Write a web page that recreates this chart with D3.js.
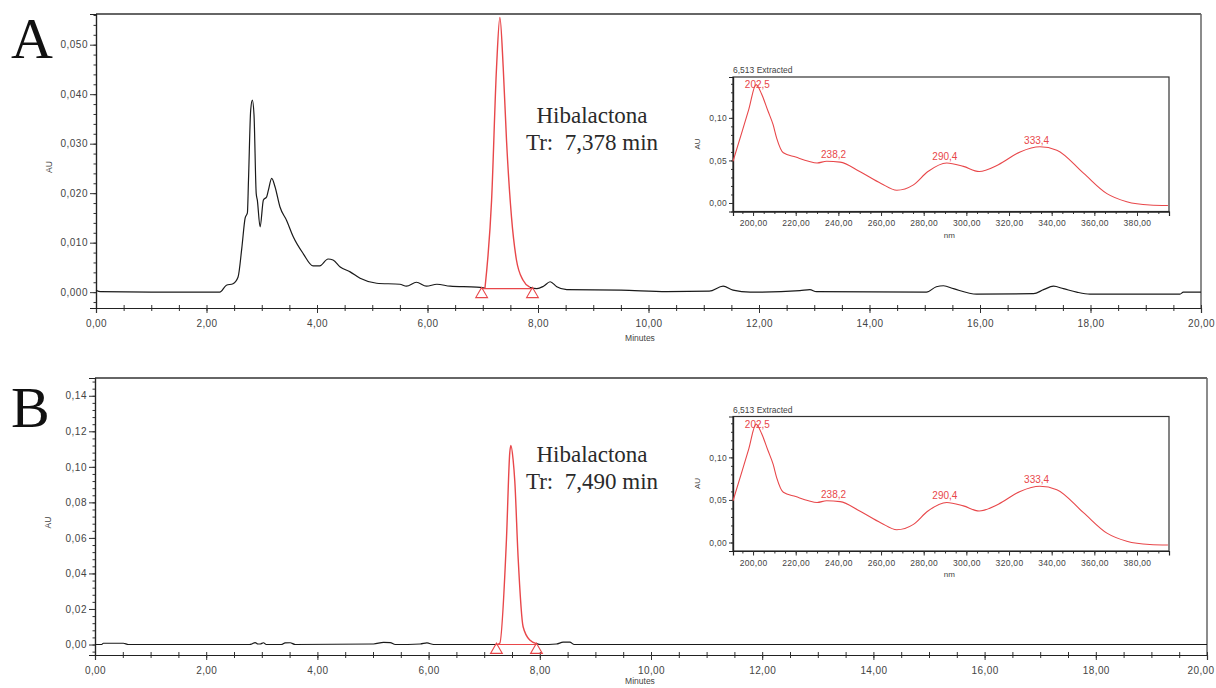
<!DOCTYPE html>
<html>
<head>
<meta charset="utf-8">
<script src="https://cdn.jsdelivr.net/npm/d3@7"></script>
<style>
  body { margin: 0; background: #fff; }
  svg { display: block; font-family: Arial, "Liberation Sans", sans-serif; }
  .serif { font-family: "Liberation Serif", "Times New Roman", serif; }
  .tick text { fill: #444; }
</style>
</head>
<body>
<div id="container"></div>
<script>
// chromatogram A: [minutes, AU]
const traceA = [
  [0.00, 0.0004], [0.08, 0.0001], [1.00, 0.0], [2.24, 0.0], [2.36, 0.0014], [2.48, 0.0017],
  [2.57, 0.003], [2.64, 0.009], [2.70, 0.015], [2.74, 0.016], [2.76, 0.0226], [2.80, 0.0368],
  [2.83, 0.0388], [2.86, 0.0358], [2.90, 0.0199], [2.92, 0.0186], [2.97, 0.0132], [3.03, 0.0186],
  [3.09, 0.0193], [3.12, 0.0206], [3.18, 0.0230], [3.24, 0.0213], [3.33, 0.0172], [3.45, 0.0145],
  [3.57, 0.0112], [3.75, 0.0078], [3.93, 0.0053], [4.05, 0.0053], [4.20, 0.0067], [4.29, 0.0065],
  [4.42, 0.0051], [4.60, 0.0041], [4.78, 0.0028], [5.08, 0.0018], [5.50, 0.0016], [5.62, 0.0012],
  [5.80, 0.0020], [5.98, 0.0012], [6.17, 0.0016], [6.41, 0.0012], [6.89, 0.0010], [7.04, 0.0008],
  [7.16, 0.0186], [7.25, 0.0455], [7.31, 0.0555], [7.37, 0.0455], [7.43, 0.0307], [7.52, 0.0152],
  [7.61, 0.0065], [7.73, 0.0024], [7.85, 0.0010], [7.98, 0.0007], [8.10, 0.0012], [8.22, 0.0021],
  [8.34, 0.0011], [8.52, 0.0005], [9.50, 0.0004], [10.33, 0.0001], [11.10, 0.0002], [11.35, 0.0012],
  [11.53, 0.0004], [11.84, 0.0], [12.74, 0.0003], [12.92, 0.0005], [13.04, 0.0001], [15.03, 0.0],
  [15.21, 0.0011], [15.34, 0.0013], [15.52, 0.0007], [15.94, -0.0004], [16.97, -0.0003],
  [17.15, 0.0005], [17.33, 0.0012], [17.51, 0.0007], [17.75, 0.0], [17.99, -0.0004],
  [19.62, -0.0004], [19.68, 0.0], [20.0, 0.0]
];
// chromatogram B: [minutes, AU]
const traceB = [
  [0.00, 0.0], [0.12, 0.0], [0.15, 0.0007], [0.51, 0.0007], [0.60, 0.0], [2.78, 0.0],
  [2.82, 0.0003], [2.88, 0.0011], [2.93, 0.0003], [2.97, 0.0003], [3.03, 0.0010], [3.08, 0.0],
  [3.35, 0.0], [3.42, 0.0009], [3.51, 0.0010], [3.60, 0.0], [5.01, 0.0003], [5.19, 0.0012],
  [5.31, 0.0011], [5.40, 0.0], [5.85, 0.0003], [5.97, 0.0009], [6.09, 0.0], [7.22, 0.0],
  [7.28, 0.0007], [7.40, 0.059], [7.46, 0.108], [7.48, 0.112], [7.52, 0.104], [7.55, 0.092],
  [7.61, 0.049], [7.70, 0.010], [7.82, 0.0025], [7.94, 0.0005], [8.02, 0.0], [8.30, 0.0003],
  [8.42, 0.0013], [8.54, 0.0013], [8.62, 0.0], [20.0, 0.0]
];
// integrated peak: start, end, baseline AU
const peakA = [6.98, 7.90, 0.0007];
const peakB = [7.22, 7.94, 0.0];
const peakNames = ["Hibalactona", "Hibalactona"];
const retentionTexts = ["Tr:  7,378 min", "Tr:  7,490 min"];
const panelLetters = ["A", "B"];

// UV spectrum of the peak: [nm, AU]
const spectrum = [
  [190.6, 0.049], [195, 0.085], [198, 0.110], [201.4, 0.139], [204, 0.128], [207, 0.108],
  [209.4, 0.092], [211.1, 0.076], [214.2, 0.059], [220, 0.054], [226, 0.049], [230, 0.047],
  [234.5, 0.049], [240.8, 0.048], [250, 0.037], [260, 0.023], [267.4, 0.015], [275, 0.021],
  [282, 0.037], [290.8, 0.047], [298.6, 0.043], [306, 0.037], [315, 0.045], [325.2, 0.060],
  [334.5, 0.066], [342.4, 0.062], [354.9, 0.035], [365.9, 0.011], [375.2, 0.0015],
  [386, -0.0024], [394.5, -0.003]
];
const spectrumPeaks = [202.5, 238.2, 290.4, 333.4];
const spectrumPeakLabels = ["202,5", "238,2", "290,4", "333,4"];
const spectrumTitle = "6,513 Extracted";

const minuteTicks = d3.range(0, 20.001, 2);
const yTicksA = d3.range(0, 0.0501, 0.01);
const yTicksB = d3.range(0, 0.1401, 0.02);
const nmTicks = d3.range(200, 381, 20);
const spectrumYTicks = [0, 0.05, 0.1];

const WIDTH = 1216;
const HEIGHT = 688;
const RED = "#e8474a";

const loc = d3.formatLocale({ decimal: ",", thousands: ".", grouping: [3], currency: ["", ""] });

const svg = d3.select("#container").append("svg")
  .attr("width", WIDTH).attr("height", HEIGHT);

function styleAxis(g) {
  g.selectAll("path.domain").attr("stroke", "#222").attr("stroke-width", 1.2);
  g.selectAll(".tick line").attr("stroke", "#333");
}

function drawPanel(opt) {
  const g = svg.append("g");
  const x = d3.scaleLinear().domain([0, 20]).range([opt.left, opt.right]);
  const y = d3.scaleLinear().domain(opt.yDomain).range([opt.bottom, opt.top]);

  // frame: top + right
  g.append("line").attr("x1", opt.left).attr("x2", opt.right)
    .attr("y1", opt.top).attr("y2", opt.top)
    .attr("stroke", "#666").attr("stroke-width", 2);
  g.append("line").attr("x1", opt.right).attr("x2", opt.right)
    .attr("y1", opt.top).attr("y2", opt.bottom)
    .attr("stroke", "#666").attr("stroke-width", 1.5);

  // minor ticks
  g.append("g").attr("transform", `translate(0,${opt.bottom})`)
    .call(d3.axisBottom(x).tickValues(d3.range(0, 20.001, 0.5)).tickSizeInner(3).tickSizeOuter(0).tickFormat(""))
    .call(styleAxis);
  g.append("g").attr("transform", `translate(0,${opt.bottom})`)
    .call(d3.axisBottom(x).tickValues(d3.range(0, 20.001, 0.5)).tickSizeInner(-3).tickSizeOuter(0).tickFormat(""))
    .call(styleAxis);
  g.append("g").attr("transform", `translate(0,${opt.bottom})`)
    .call(d3.axisBottom(x).tickValues(minuteTicks).tickSize(5).tickPadding(7)
      .tickFormat(loc.format(".2f")))
    .call(styleAxis)
    .call((a) => a.selectAll("text").attr("font-size", 10).attr("letter-spacing", 0.4))
    .call((a) => a.selectAll("text").filter((d) => x(d) + 15 > WIDTH)
      .attr("text-anchor", "end").attr("x", WIDTH - 2 - x(20)));

  g.append("g").attr("transform", `translate(${opt.left},0)`)
    .call(d3.axisLeft(y).tickValues(d3.range(opt.yDomain[0] - opt.yDomain[0] % opt.yMinor, opt.yDomain[1], opt.yMinor)
      .filter((v) => v >= opt.yDomain[0])).tickSizeInner(2.5).tickSizeOuter(0).tickFormat(""))
    .call(styleAxis);
  g.append("g").attr("transform", `translate(${opt.left},0)`)
    .call(d3.axisLeft(y).tickValues(opt.yTicks).tickSize(6).tickPadding(2)
      .tickFormat(loc.format(opt.yFormat)))
    .call(styleAxis)
    .call((a) => a.selectAll("text").attr("font-size", 10).attr("letter-spacing", 0.5));

  g.append("text").attr("transform", `translate(${opt.left - 44},${(opt.top + opt.bottom) / 2 + 6}) rotate(-90)`)
    .attr("text-anchor", "middle").attr("font-size", 8.5).attr("fill", "#444").text("AU");
  g.append("text").attr("x", 640).attr("y", Math.min(opt.bottom + 33, HEIGHT - 4))
    .attr("text-anchor", "middle").attr("font-size", 8.5).attr("fill", "#444").text("Minutes");

  const line = d3.line().x((d) => x(d[0])).y((d) => y(d[1])).curve(d3.curveMonotoneX);

  const [t0, t1, base] = opt.peak;
  g.append("path").datum(opt.trace.filter((d) => d[0] <= t0 + 0.06)).attr("d", line)
    .attr("fill", "none").attr("stroke", "#1a1a1a").attr("stroke-width", 1.2);
  g.append("path").datum(opt.trace.filter((d) => d[0] >= t1 - 0.06)).attr("d", line)
    .attr("fill", "none").attr("stroke", "#1a1a1a").attr("stroke-width", 1.2);

  const red = opt.trace.filter((d) => d[0] >= t0 - 0.02 && d[0] <= t1 + 0.02);
  g.append("path").datum(red).attr("d", line)
    .attr("fill", "none").attr("stroke", RED).attr("stroke-width", 1.4);
  g.append("line").attr("x1", x(t0)).attr("x2", x(t1))
    .attr("y1", y(base)).attr("y2", y(base))
    .attr("stroke", RED).attr("stroke-width", 1.2);
  g.selectAll("path.mark").data([t0, t1]).enter().append("path")
    .attr("class", "mark")
    .attr("d", d3.symbol(d3.symbolTriangle).size(60))
    .attr("transform", (d) => `translate(${x(d)},${y(base) + 5.5})`)
    .attr("fill", "none").attr("stroke", RED).attr("stroke-width", 1.1);

  // annotation
  const ann = g.append("text").attr("class", "serif").attr("text-anchor", "middle")
    .attr("font-size", 23).attr("fill", "#2a2a2a").style("white-space", "pre");
  ann.append("tspan").attr("x", 592).attr("y", opt.top + opt.nameDy).text(opt.name);
  ann.append("tspan").attr("x", 592).attr("y", opt.top + opt.nameDy + 27).text(opt.tr);

  svg.append("text").attr("class", "serif").attr("x", 11).attr("y", opt.top + opt.letterDy)
    .attr("font-size", 58).attr("fill", "#111").text(opt.letter);

  drawInset(opt.insetTop);
}

function drawInset(top) {
  const left = 733, right = 1169, bottom = top + 134.5;
  const g = svg.append("g");
  const x = d3.scaleLinear().domain([190.6, 395]).range([left, right]);
  const y = d3.scaleLinear().domain([-0.010, 0.148]).range([bottom, top]);

  g.append("rect").attr("x", left).attr("y", top).attr("width", right - left).attr("height", bottom - top)
    .attr("fill", "#fff").attr("stroke", "#333").attr("stroke-width", 1.2);

  g.append("g").attr("transform", `translate(0,${bottom})`)
    .call(d3.axisBottom(x).tickValues(d3.range(195, 395, 5)).tickSizeInner(2.5).tickSizeOuter(0).tickFormat(""))
    .call(styleAxis);
  g.append("g").attr("transform", `translate(0,${bottom})`)
    .call(d3.axisBottom(x).tickValues(nmTicks).tickSize(4.5).tickPadding(4).tickFormat(loc.format(".2f")))
    .call(styleAxis)
    .call((a) => a.selectAll("text").attr("font-size", 8.5).attr("letter-spacing", 0.3));
  g.append("g").attr("transform", `translate(${left},0)`)
    .call(d3.axisLeft(y).tickValues(d3.range(-0.01, 0.1481, 0.01)).tickSizeInner(2).tickSizeOuter(0).tickFormat(""))
    .call(styleAxis);
  g.append("g").attr("transform", `translate(${left},0)`)
    .call(d3.axisLeft(y).tickValues(spectrumYTicks).tickSize(4).tickPadding(2).tickFormat(loc.format(".2f")))
    .call(styleAxis)
    .call((a) => a.selectAll("text").attr("font-size", 8.5).attr("letter-spacing", 0.3));

  g.append("text").attr("x", left).attr("y", top - 4).attr("font-size", 8.5).attr("fill", "#444")
    .text(spectrumTitle);
  g.append("text").attr("transform", `translate(${left - 33},${top + 67}) rotate(-90)`)
    .attr("text-anchor", "middle").attr("font-size", 8).attr("fill", "#444").text("AU");
  g.append("text").attr("x", x(292)).attr("y", bottom + 26).attr("text-anchor", "middle")
    .attr("font-size", 8).attr("fill", "#444").text("nm");

  const line = d3.line().x((d) => x(d[0])).y((d) => y(d[1])).curve(d3.curveMonotoneX);
  g.append("path").datum(spectrum).attr("d", line)
    .attr("fill", "none").attr("stroke", RED).attr("stroke-width", 1.1);

  const interp = (nm) => {
    const i = d3.bisector((d) => d[0]).left(spectrum, nm);
    const a = spectrum[Math.max(0, i - 1)], b = spectrum[Math.min(spectrum.length - 1, i)];
    return a[0] === b[0] ? a[1] : a[1] + (b[1] - a[1]) * (nm - a[0]) / (b[0] - a[0]);
  };
  g.selectAll("text.peak").data(spectrumPeaks).enter().append("text")
    .attr("class", "peak")
    .attr("x", (d) => x(d) - 1)
    .attr("y", (d) => Math.max(y(interp(d)) - 3.5, top + 11))
    .attr("text-anchor", "middle").attr("font-size", 10).attr("fill", RED)
    .text((d, i) => spectrumPeakLabels[i]);
}

drawPanel({
  left: 96, right: 1201, top: 14, bottom: 308,
  yDomain: [-0.0032, 0.0562], yTicks: yTicksA, yMinor: 0.002, yFormat: ".3f",
  trace: traceA, peak: peakA, name: peakNames[0], tr: retentionTexts[0],
  letter: panelLetters[0], nameDy: 109, letterDy: 44, insetTop: 77
});
drawPanel({
  left: 95, right: 1207, top: 378, bottom: 655,
  yDomain: [-0.0059, 0.150], yTicks: yTicksB, yMinor: 0.004, yFormat: ".2f",
  trace: traceB, peak: peakB, name: peakNames[1], tr: retentionTexts[1],
  letter: panelLetters[1], nameDy: 84, letterDy: 49, insetTop: 416.5
});
</script>
</body>
</html>
